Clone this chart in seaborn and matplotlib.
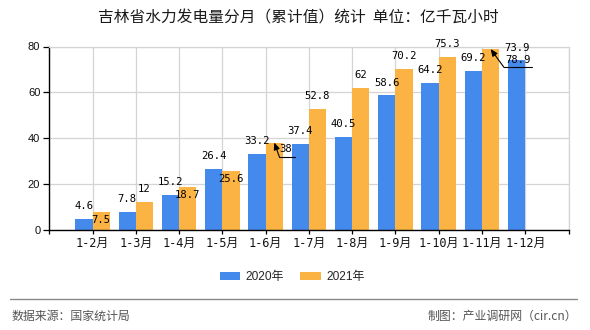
import matplotlib
matplotlib.use("Agg")
import matplotlib.pyplot as plt
import seaborn as sns
import pandas as pd
from matplotlib.lines import Line2D
from matplotlib.transforms import offset_copy

# ---- data ----
months = ["1-2月", "1-3月", "1-4月", "1-5月", "1-6月", "1-7月", "1-8月",
          "1-9月", "1-10月", "1-11月", "1-12月"]
values_2020 = [4.6, 7.8, 15.2, 26.4, 33.2, 37.4, 40.5, 58.6, 64.2, 69.2, 73.9]
values_2021 = [7.5, 12, 18.7, 25.6, 38, 52.8, 62, 70.2, 75.3, 78.9]
series_names = ["2020年", "2021年"]
title = "吉林省水力发电量分月（累计值）统计  单位：亿千瓦小时"
source_text = "数据来源：国家统计局"
credit_text = "制图：产业调研网（cir.cn）"

rows = []
for m, v in zip(months, values_2020):
    rows.append({"month": m, "value": v, "year": series_names[0]})
for m, v in zip(months, values_2021):
    rows.append({"month": m, "value": v, "year": series_names[1]})
df = pd.DataFrame(rows)

colors = ["#448AEC", "#FBB343"]

sns.set_theme(style="white")
plt.rcParams["font.family"] = ["DejaVu Sans", "Noto Sans CJK SC"]

fig = plt.figure(figsize=(5.9, 3.3), dpi=100)
ax = fig.add_axes([49.3 / 590, 1 - 229.5 / 330, (568.5 - 49.3) / 590, (229.5 - 46.5) / 330])

sns.barplot(data=df, x="month", y="value", hue="year", order=months,
            hue_order=series_names, palette=colors, saturation=1,
            width=0.8, ax=ax, legend=False, errorbar=None,
            linewidth=0, edgecolor="none")

ax.set_xlim(-1, len(months))
ax.set_ylim(0, 80)
ax.set_yticks([0, 20, 40, 60, 80])
ax.set_yticklabels(["0", "20", "40", "60", "80"], fontsize=8,
                   family=["Liberation Sans", "DejaVu Sans"], color="#111111")
ax.set_xticks(range(-1, len(months) + 1))
ax.set_xticklabels([""] + months + [""], fontsize=8.6,
                   family=["DejaVu Sans Mono", "Noto Sans CJK SC"], color="#111111")
ax.set_xlabel("")
ax.set_ylabel("")

ax.grid(True, color="#d4d4d4", linewidth=0.9)
ax.set_axisbelow(True)
for s in ["left", "bottom"]:
    ax.spines[s].set_color("black")
    ax.spines[s].set_linewidth(1.0)
for s in ["top", "right"]:
    ax.spines[s].set_color("#d4d4d4")
    ax.spines[s].set_linewidth(0.9)
ax.tick_params(axis="x", direction="out", length=3, width=0.9, color="black", pad=2)
ax.tick_params(axis="y", direction="out", length=4.5, width=0.9, color="black", pad=2)
ax.tick_params(bottom=True, left=True)

# ---- data labels ----
label_font = dict(fontsize=7.6, family=["DejaVu Sans Mono"], color="black")
inside = {(1, 0), (1, 2), (1, 3)}          # labels drawn just under the bar top
leader = {(1, 4): ((3.6, -10.1), (14.9, -10.1), (8.4, -4.6)),
          (1, 9): ((9.6, -13.2), (29.7, -13.2), (19.7, -8.2))}
all_values = [values_2020, values_2021]
inv = fig.transFigure.inverted()
for si, cont in enumerate(ax.containers):
    for bi, (patch, v) in enumerate(zip(cont.patches, all_values[si])):
        xc = patch.get_x() + patch.get_width() / 2
        top = patch.get_height()
        txt = f"{v:g}"
        key = (si, bi)
        if key in leader:
            (lx, ly), (rx, ry), (tx, ty) = leader[key]
            ax.annotate("", xy=(xc, top), xycoords="data",
                        xytext=(lx, ly), textcoords="offset points",
                        arrowprops=dict(arrowstyle="-|>,head_length=0.35,head_width=0.15",
                                        color="black", lw=0.8, shrinkA=0, shrinkB=0))
            tl = offset_copy(ax.transData, fig=fig, x=lx, y=ly, units="points")
            trr = offset_copy(ax.transData, fig=fig, x=rx, y=ry, units="points")
            q1 = inv.transform(tl.transform((xc, top)))
            q2 = inv.transform(trr.transform((xc, top)))
            fig.add_artist(Line2D([q1[0], q2[0]], [q1[1], q2[1]], color="black", lw=0.8))
            ax.annotate(txt, xy=(xc, top), xytext=(tx, ty), textcoords="offset points",
                        ha="center", va="center", **label_font)
        elif key in inside:
            ax.annotate(txt, xy=(xc, top), xytext=(0, -5.8), textcoords="offset points",
                        ha="center", va="center", **label_font)
        else:
            ax.annotate(txt, xy=(xc, top), xytext=(0, 9.2), textcoords="offset points",
                        ha="center", va="center", **label_font)

# ---- title ----
fig.text(298 / 590, 1 - 18 / 330, title, ha="center", va="center", fontsize=11.3,
         family=["Noto Sans CJK SC"], color="#1a1a1a")

# ---- legend ----
handles = [plt.Rectangle((0, 0), 1, 1, facecolor=c, edgecolor="none") for c in colors]
fig.legend(handles, series_names, loc="center", bbox_to_anchor=(292 / 590, 1 - 277 / 330),
           ncol=2, frameon=False, handlelength=1.75, handleheight=0.7,
           handletextpad=0.4, columnspacing=1.4,
           prop={"family": ["Liberation Sans", "Noto Sans CJK SC"], "size": 8.6})

# ---- footer ----
fig.add_artist(Line2D([10 / 590, 577 / 590], [1 - 298.5 / 330, 1 - 298.5 / 330],
                      color="#8a8a8a", lw=1.0))
fig.text(11 / 590, 1 - 316.5 / 330, source_text, ha="left", va="center", fontsize=8.6,
         family=["Noto Sans CJK SC"], color="#555555")
fig.text(577 / 590, 1 - 316.5 / 330, credit_text, ha="right", va="center", fontsize=8.6,
         family=["Noto Sans CJK SC"], color="#555555")

fig.savefig("out.png", dpi=100)
